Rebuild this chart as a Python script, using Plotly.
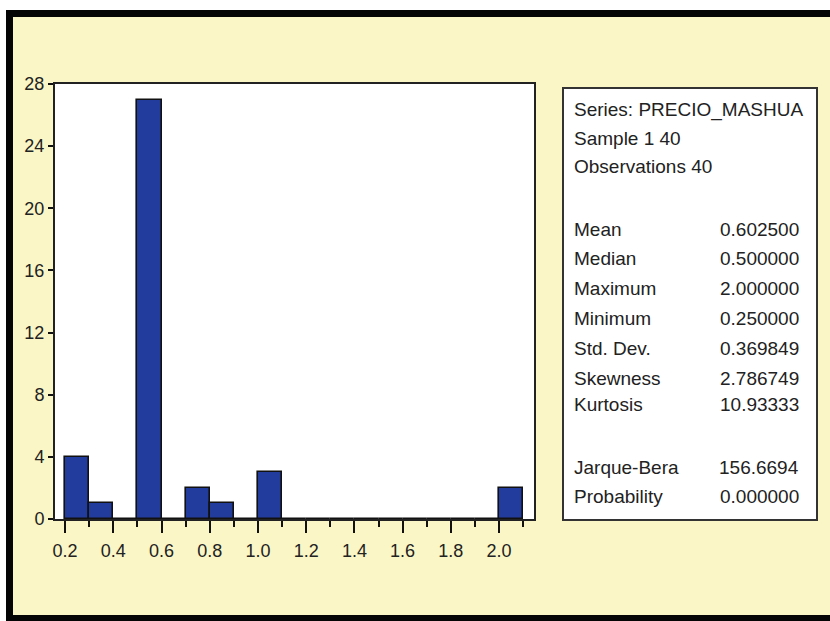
import plotly.graph_objects as go

# Histogram of PRECIO_MASHUA: bin lower edges (width 0.1) and counts
bin_starts = [0.2, 0.3, 0.4, 0.5, 0.6, 0.7, 0.8, 0.9, 1.0, 1.1, 1.2, 1.3, 1.4, 1.5, 1.6, 1.7, 1.8, 1.9, 2.0]
counts = [4, 1, 0, 27, 0, 2, 1, 0, 3, 0, 0, 0, 0, 0, 0, 0, 0, 0, 2]
bin_width = 0.1

# Descriptive statistics panel
stat_header = ["Series: PRECIO_MASHUA", "Sample 1 40", "Observations 40"]
stat_names = ["Mean", "Median", "Maximum", "Minimum", "Std. Dev.", "Skewness", "Kurtosis"]
stat_values = ["0.602500", "0.500000", "2.000000", "0.250000", "0.369849", "2.786749", "10.93333"]
test_names = ["Jarque-Bera", "Probability"]
test_values = ["156.6694", "0.000000"]

W, H = 830, 621
PL, PR, PT, PB = 55, 534, 84, 519  # plot area in pixels

def px(x):
    return (x - PL) / (PR - PL)

def py(y):
    return (PB - y) / (PB - PT)

BG = "#FAF6C6"
FONT = "Liberation Sans, Arial, sans-serif"

fig = go.Figure()
fig.add_trace(go.Bar(
    x=bin_starts, y=counts, width=bin_width, offset=0,
    marker=dict(color="#223C9E", line=dict(color="#111111", width=1.6)),
    hoverinfo="skip",
))

shapes = []
# white strips outside the framed panel
shapes.append(dict(type="rect", xref="paper", yref="paper", x0=px(0), x1=px(W), y0=py(0), y1=py(10),
                   fillcolor="white", line=dict(width=0), layer="below"))
shapes.append(dict(type="rect", xref="paper", yref="paper", x0=px(0), x1=px(6), y0=py(0), y1=py(H),
                   fillcolor="white", line=dict(width=0), layer="below"))
# thick black frame (top, left, bottom)
for x0, x1, y0, y1 in [(6, W, 10, 17), (6, 13, 10, H), (6, W, 615, H)]:
    shapes.append(dict(type="rect", xref="paper", yref="paper", x0=px(x0), x1=px(x1), y0=py(y0), y1=py(y1),
                       fillcolor="#050505", line=dict(width=0), layer="above"))
# statistics box
shapes.append(dict(type="rect", xref="paper", yref="paper", x0=px(563), x1=px(817), y0=py(88), y1=py(520),
                   fillcolor="white", line=dict(color="#333333", width=2), layer="below"))

annotations = []
def add_text(text, x, y, anchor="left"):
    annotations.append(dict(text=text, xref="paper", yref="paper", x=px(x), y=py(y),
                            xanchor=anchor, yanchor="middle", showarrow=False,
                            font=dict(family=FONT, size=19, color="#222222")))

header_y = [110, 138, 166]
for t, y in zip(stat_header, header_y):
    add_text(t, 572, y)
stat_y = [229, 258, 288, 318, 348, 378, 405]
for n, v, y in zip(stat_names, stat_values, stat_y):
    add_text(n, 572, y)
    add_text(v, 801, y, "right")
test_y = [467, 496]
for n, v, y in zip(test_names, test_values, test_y):
    add_text(n, 572, y)
    add_text(v, 801, y, "right")

fig.update_layout(
    width=W, height=H,
    margin=dict(l=PL, r=W - PR, t=PT, b=H - PB, pad=0),
    paper_bgcolor=BG, plot_bgcolor="white",
    showlegend=False, bargap=0,
    shapes=shapes, annotations=annotations,
    xaxis=dict(
        range=[0.158, 2.145], tick0=0.2, dtick=0.2, tickformat=".1f",
        ticks="outside", ticklen=12, tickwidth=2, tickcolor="#111111",
        minor=dict(tick0=0.1, dtick=0.1, ticks="outside", ticklen=6, tickwidth=2, tickcolor="#111111"),
        showline=True, linecolor="#222222", linewidth=2, mirror=True,
        showgrid=False, zeroline=False, ticklabelstandoff=2,
        tickfont=dict(family=FONT, size=18, color="#222222"),
    ),
    yaxis=dict(
        range=[0, 28], tick0=0, dtick=4,
        ticks="outside", ticklen=5, tickwidth=2, tickcolor="#111111",
        showline=True, linecolor="#222222", linewidth=2, mirror=True,
        showgrid=False, zeroline=False,
        tickfont=dict(family=FONT, size=18, color="#222222"),
    ),
)

fig.write_html("out.html")
